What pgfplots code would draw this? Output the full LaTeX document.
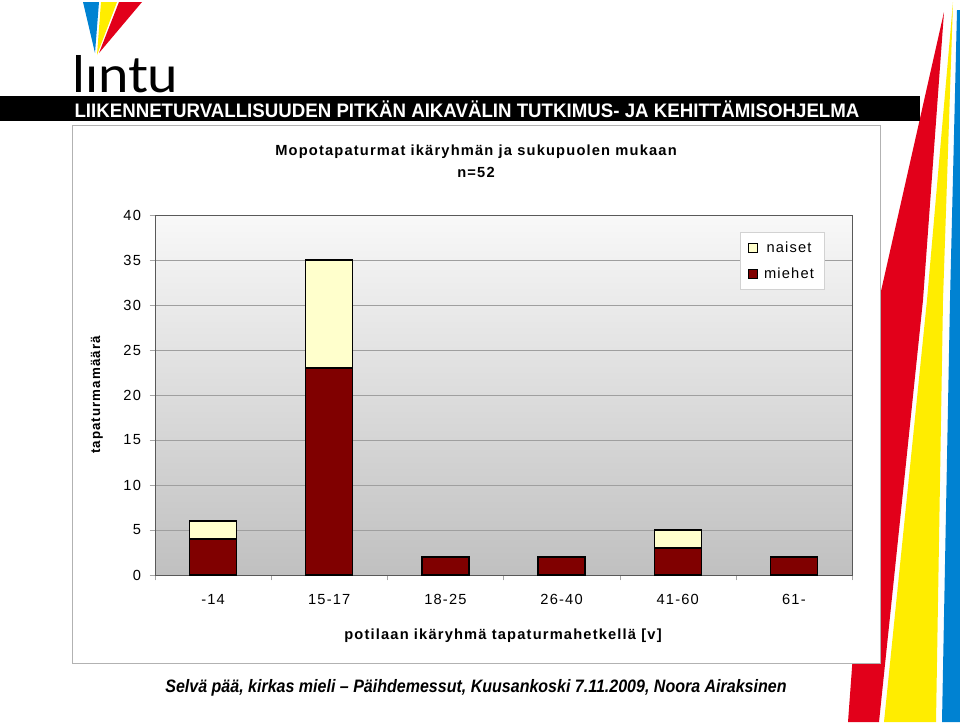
\documentclass[border=0pt]{standalone}
\usepackage{pgfplots}
\pgfplotsset{compat=1.18}
\usepackage{graphicx}
\usepackage{fontspec}
\setmainfont{Liberation Sans}
\newfontfamily\lato{Lato}
\newfontfamily\spaced[LetterSpace=8]{Liberation Sans}
\definecolor{miehet}{RGB}{128,0,0}
\definecolor{naiset}{RGB}{255,255,204}
\definecolor{bgtop}{RGB}{248,248,248}
\definecolor{bgbot}{RGB}{192,192,192}
\definecolor{lred}{RGB}{226,0,26}
\definecolor{lyel}{RGB}{255,237,0}
\definecolor{lblue}{RGB}{0,130,210}
\begin{document}
\begin{tikzpicture}
\begin{scope}[x=0.75pt,y=-0.75pt]
\path[use as bounding box, fill=white] (0,0) rectangle (960,722);
% right stripes
\fill[lred] (944,12) -- (923,300) -- (879,722) -- (848,722) -- (879,300) -- cycle;
\fill[lyel] (953,2) -- (943,300) -- (936,722) -- (884,722) -- (927,300) -- cycle;
\fill[lblue] (957,10) -- (960,10) -- (960,722) -- (942,722) -- (950,300) -- cycle;
% logo triangles
\fill[lblue] (83,2) -- (99,2) -- (95,53) -- cycle;
\fill[lyel] (101,2) -- (117,2) -- (97,55) -- cycle;
\fill[lred] (119,2) -- (142,2) -- (99,53) -- cycle;
\node[anchor=base west, inner sep=0pt] at (72,92) {\resizebox{79.5pt}{27.75pt}{\lato lıntu}};
% banner
\fill[black] (0,96) rectangle (920,121);
\node[text=white, inner sep=0pt] at (467,109) {\resizebox{588.75pt}{12.5pt}{\bfseries LIIKENNETURVALLISUUDEN PITKÄN AIKAVÄLIN TUTKIMUS- JA KEHITTÄMISOHJELMA}};
% chart box
\draw[gray!60, fill=white] (72,125) rectangle (880,663);
% titles
\node[font=\spaced\bfseries\fontsize{11}{13}\selectfont] at (476,152) {Mopotapaturmat ikäryhmän ja sukupuolen mukaan};
\node[font=\spaced\bfseries\fontsize{11}{13}\selectfont] at (476,172) {n=52};
\node[font=\spaced\bfseries\fontsize{10}{12}\selectfont, rotate=90] at (97,395) {tapaturmamäärä};
\node[font=\spaced\bfseries\fontsize{11}{13}\selectfont] at (503,636) {potilaan ikäryhmä tapaturmahetkellä [v]};
\node at (476,688) {\scalebox{0.89}[1]{\bfseries\itshape\fontsize{13.5}{16}\selectfont Selvä pää, kirkas mieli -- Päihdemessut, Kuusankoski 7.11.2009, Noora Airaksinen}};
\end{scope}
\begin{axis}[
  at={(116.25pt,-431.25pt)}, anchor=south west,
  scale only axis, width=522.75pt, height=270pt,
  ybar stacked, bar width=35.25pt,
  xmin=-0.5, xmax=5.5, ymin=0, ymax=40,
  ytick={0,5,...,40},
  xtick={-0.5,0.5,...,5.5},
  xticklabels={,,,,,,},
  extra x ticks={0,1,2,3,4,5},
  extra x tick labels={-14,15-17,18-25,26-40,41-60,61-},
  extra x tick style={tick style={draw=none}},
  xtick pos=lower, ytick pos=left,
  major tick length=4pt, tick align=outside,
  tick style={gray!70},
  ymajorgrids, major grid style={gray!75},
  axis background/.style={top color=bgtop, bottom color=bgbot},
  axis line style={gray!70!black},
  /pgf/number format/assume math mode=true,
  tick label style={font=\spaced\fontsize{11}{13}\selectfont},
  xticklabel style={yshift=-7pt},
  yticklabel style={xshift=-3pt},
  legend style={at={(0.839,0.953)}, anchor=north west, draw=gray!35, fill=white,
    font=\spaced\fontsize{11}{13}\selectfont, row sep=6pt, column sep=3pt, inner xsep=6pt, inner ysep=5pt},
  reverse legend,
]
\addplot[fill=miehet, draw=black, line width=1.1pt,
  legend image code/.code={\draw[fill=miehet,draw=black,line width=0.6pt] (0pt,-3.2pt) rectangle (6.4pt,3.2pt);}]
  coordinates {(0,4) (1,23) (2,2) (3,2) (4,3) (5,2)};
\addlegendentry{miehet}
\addplot[fill=naiset, draw=black, line width=1.1pt,
  legend image code/.code={\draw[fill=naiset,draw=black,line width=0.6pt] (0pt,-3.2pt) rectangle (6.4pt,3.2pt);}]
  coordinates {(0,2) (1,12) (2,0) (3,0) (4,2) (5,0)};
\addlegendentry{naiset}
\end{axis}
\end{tikzpicture}
\end{document}
